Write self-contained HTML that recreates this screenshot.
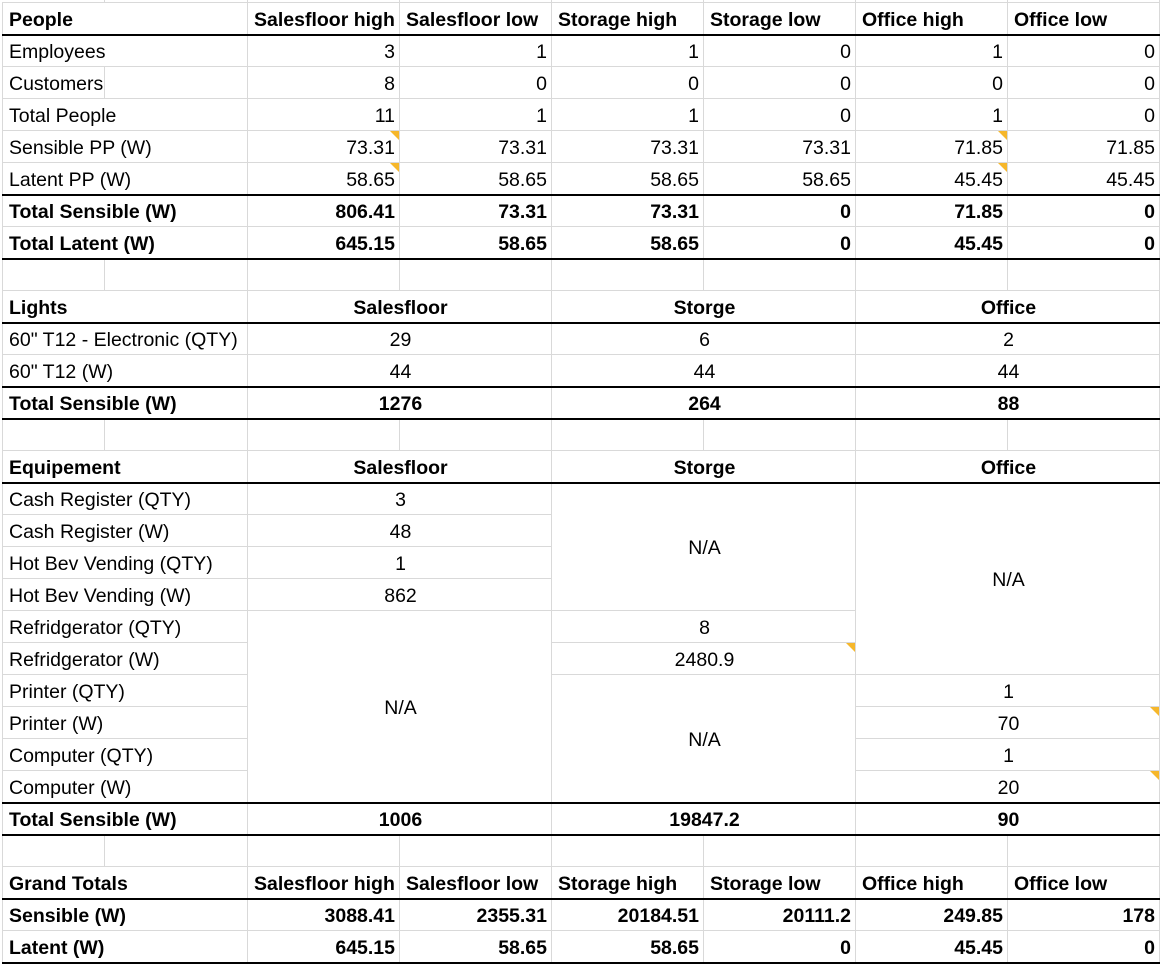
<!DOCTYPE html>
<html><head><meta charset="utf-8"><style>
body{margin:0;width:1164px;height:968px;background:#fff;overflow:hidden;font-family:"Liberation Sans",Arial,sans-serif;}
#sheet{position:relative;width:1164px;height:968px;}
.c{position:absolute;box-sizing:border-box;border-right:1px solid #d9d9d9;border-bottom:1px solid #d9d9d9;background:#fff;font-size:19.5px;color:#000;white-space:nowrap;overflow:visible;display:flex;align-items:center;padding:3px 4px 0 6px;}
.b{font-weight:bold;}
.r{justify-content:flex-end;}
.m{justify-content:center;}
.hl{position:absolute;left:2px;width:1158px;height:2px;background:#000;}
.tri{position:absolute;width:0;height:0;border-top:9px solid #f6b72b;border-left:9px solid transparent;right:0;top:0;}
</style></head><body>
<div id="sheet"></div>
<script>
const X=[2,105,248,400,552,704,856,1008,1160];
function T(i){return 3+32*i;}
const sheet=document.getElementById('sheet');
function cell(r,c1,c2,r2,text,cls,name,tri){
  const d=document.createElement('div');
  d.className='c '+(cls||'');
  d.style.left=X[c1]+'px';d.style.width=(X[c2]-X[c1])+'px';
  d.style.top=T(r)+'px';d.style.height=(T(r2+1)-T(r))+'px';
  if(c1===0) d.style.borderLeft='1px solid #d9d9d9';
  d.textContent=text;
  
  
  if(tri){const t=document.createElement('div');t.className='tri';
    
    
    d.appendChild(t);}
  sheet.appendChild(d);
}
function hline(y){const h=document.createElement('div');h.className='hl';h.style.top=(y-1)+'px';
  
  
  sheet.appendChild(h);}
function label(r,text,bold,split){
  if(split){cell(r,0,1,r,text,bold?'b':'','row-label');cell(r,1,2,r,'','','empty-cell');}
  else cell(r,0,2,r,text,bold?'b':'','row-label');
}
function blank(r){for(let c=0;c<8;c++)cell(r,c,c+1,r,'','','empty-cell');}
// People
const peopleHead=['Salesfloor high','Salesfloor low','Storage high','Storage low','Office high','Office low'];
const peopleRows=[
 ['Employees',['3','1','1','0','1','0'],false],
 ['Customers',['8','0','0','0','0','0'],false],
 ['Total People',['11','1','1','0','1','0'],false],
 ['Sensible PP (W)',['73.31','73.31','73.31','73.31','71.85','71.85'],false],
 ['Latent PP (W)',['58.65','58.65','58.65','58.65','45.45','45.45'],false],
 ['Total Sensible (W)',['806.41','73.31','73.31','0','71.85','0'],true],
 ['Total Latent (W)',['645.15','58.65','58.65','0','45.45','0'],true]];
label(0,'People',true);
peopleHead.forEach((h,j)=>cell(0,2+j,3+j,0,h,'b','column-header'));
peopleRows.forEach((row,i)=>{const r=i+1;label(r,row[0],row[2],r===2);
  row[1].forEach((v,j)=>cell(r,2+j,3+j,r,v,'r'+(row[2]?' b':''),'value-cell',(r===4||r===5)&&(j===0||j===4)));});
blank(8);
// Lights
label(9,'Lights',true);
['Salesfloor','Storge','Office'].forEach((h,j)=>cell(9,2+2*j,4+2*j,9,h,'b m','column-header'));
const lights=[['60" T12 - Electronic (QTY)',['29','6','2'],false],['60" T12 (W)',['44','44','44'],false],['Total Sensible (W)',['1276','264','88'],true]];
lights.forEach((row,i)=>{const r=10+i;label(r,row[0],row[2]);
  row[1].forEach((v,j)=>cell(r,2+2*j,4+2*j,r,v,'m'+(row[2]?' b':''),'value-cell'));});
blank(13);
// Equipment
label(14,'Equipement',true);
['Salesfloor','Storge','Office'].forEach((h,j)=>cell(14,2+2*j,4+2*j,14,h,'b m','column-header'));
const eqLabels=['Cash Register (QTY)','Cash Register (W)','Hot Bev Vending (QTY)','Hot Bev Vending (W)','Refridgerator (QTY)','Refridgerator (W)','Printer (QTY)','Printer (W)','Computer (QTY)','Computer (W)'];
eqLabels.forEach((l,i)=>label(15+i,l,false));
['3','48','1','862'].forEach((v,i)=>cell(15+i,2,4,15+i,v,'m','value-cell'));
cell(19,2,4,24,'N/A','m','na-cell');
cell(15,4,6,18,'N/A','m','na-cell');
cell(19,4,6,19,'8','m','value-cell');
cell(20,4,6,20,'2480.9','m','value-cell',true);
cell(21,4,6,24,'N/A','m','na-cell');
cell(15,6,8,20,'N/A','m','na-cell');
['1','70','1','20'].forEach((v,i)=>cell(21+i,6,8,21+i,v,'m','value-cell',i%2===1));
label(25,'Total Sensible (W)',true);
['1006','19847.2','90'].forEach((v,j)=>cell(25,2+2*j,4+2*j,25,v,'m b','value-cell'));
blank(26);
// Grand totals
label(27,'Grand Totals',true);
peopleHead.forEach((h,j)=>cell(27,2+j,3+j,27,h,'b','column-header'));
const grand=[['Sensible (W)',['3088.41','2355.31','20184.51','20111.2','249.85','178']],['Latent (W)',['645.15','58.65','58.65','0','45.45','0']]];
grand.forEach((row,i)=>{const r=28+i;label(r,row[0],true);
  row[1].forEach((v,j)=>cell(r,2+j,3+j,r,v,'r b','value-cell'));});
// top partial row
for(let c=0;c<8;c++){const d=document.createElement('div');d.className='c';d.style.left=X[c]+'px';d.style.top='-29px';d.style.width=(X[c+1]-X[c])+'px';d.style.height='32px';
  
  
  sheet.appendChild(d);}
[35,195,259,323,387,419,483,803,835,899,963].forEach(hline);
</script>
</body></html>
